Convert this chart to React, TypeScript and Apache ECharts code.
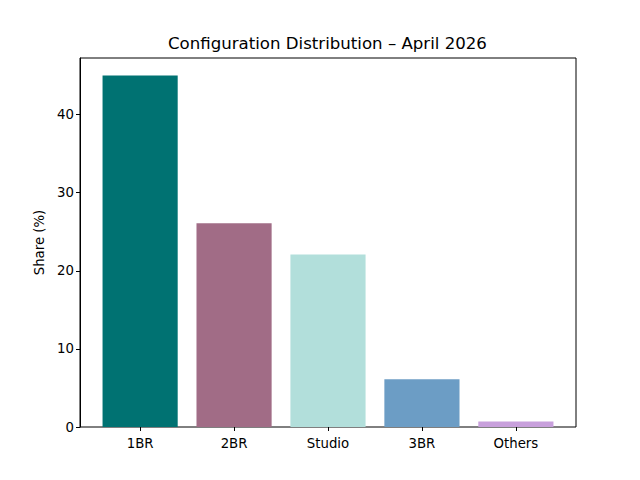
import React, { useEffect, useRef } from 'react';
import * as echarts from 'echarts';

const categories = ['1BR', '2BR', 'Studio', '3BR', 'Others'];
const shares = [45, 26.1, 22.1, 6.1, 0.7];
const barColors = ['#007272', '#a16c86', '#b2dfdb', '#6c9dc5', '#c8a0dc'];
const yTicks = [0, 10, 20, 30, 40];

const FONT = 'DejaVu Sans';

function App() {
  const chartRef = useRef<HTMLDivElement>(null);

  useEffect(() => {
    const chart = echarts.init(chartRef.current, null, { renderer: 'svg' });

    // frame (axes box) like matplotlib: 80..576 x 58..427
    const frame = { left: 80, right: 64, top: 58, bottom: 53 };
    // category band width matches matplotlib bar spacing (xlim -0.64..4.64)
    const unit = 496 / 5.28;
    const bandLeft = 80 + (0.64 - 0.5) * unit;
    const bandRight = 640 - (bandLeft + 5 * unit);
    const yMax = 45 * 1.05;

    const options = {
      animation: false,
      backgroundColor: '#ffffff',
      title: {
        text: 'Configuration Distribution – April 2026',
        left: 163,
        top: 30,
        textStyle: { fontFamily: FONT, fontSize: 16.6, fontWeight: 'normal', color: '#000' },
      },
      grid: [
        { ...frame, show: true, borderColor: '#000', borderWidth: 1, backgroundColor: 'transparent' },
        { left: bandLeft, right: bandRight, top: frame.top, bottom: frame.bottom },
      ],
      xAxis: [
        { type: 'value', gridIndex: 0, min: 0, max: 1, show: false },
        {
          type: 'category',
          gridIndex: 1,
          data: categories,
          axisLine: { show: false },
          axisTick: { show: true, alignWithLabel: true, length: 4, lineStyle: { color: '#000' } },
          axisLabel: { fontFamily: FONT, fontSize: 13.3, color: '#000', margin: 10 },
        },
      ],
      yAxis: [
        {
          type: 'value',
          gridIndex: 0,
          min: 0,
          max: yMax,
          name: 'Share (%)',
          nameLocation: 'middle',
          nameGap: 34,
          nameTextStyle: { fontFamily: FONT, fontSize: 13.3, color: '#000' },
          axisLine: { show: true, lineStyle: { color: '#000' } },
          axisTick: { show: true, length: 4, customValues: yTicks, lineStyle: { color: '#000' } },
          axisLabel: { fontFamily: FONT, fontSize: 13.3, color: '#000', margin: 6, customValues: yTicks },
          splitLine: { show: false },
        },
        { type: 'value', gridIndex: 1, min: 0, max: yMax, show: false },
      ],
      series: [
        {
          type: 'bar',
          xAxisIndex: 1,
          yAxisIndex: 1,
          barWidth: 0.8 * unit,
          data: shares.map((v, i) => ({ value: v, itemStyle: { color: barColors[i] } })),
        },
      ],
    };

    chart.setOption(options);

    return () => {
      chart.dispose();
    };
  }, []);

  return (
    <div
      ref={chartRef}
      style={{ position: 'absolute', left: 0, top: 0, width: '640px', height: '480px' }}
    ></div>
  );
}

export default App;
